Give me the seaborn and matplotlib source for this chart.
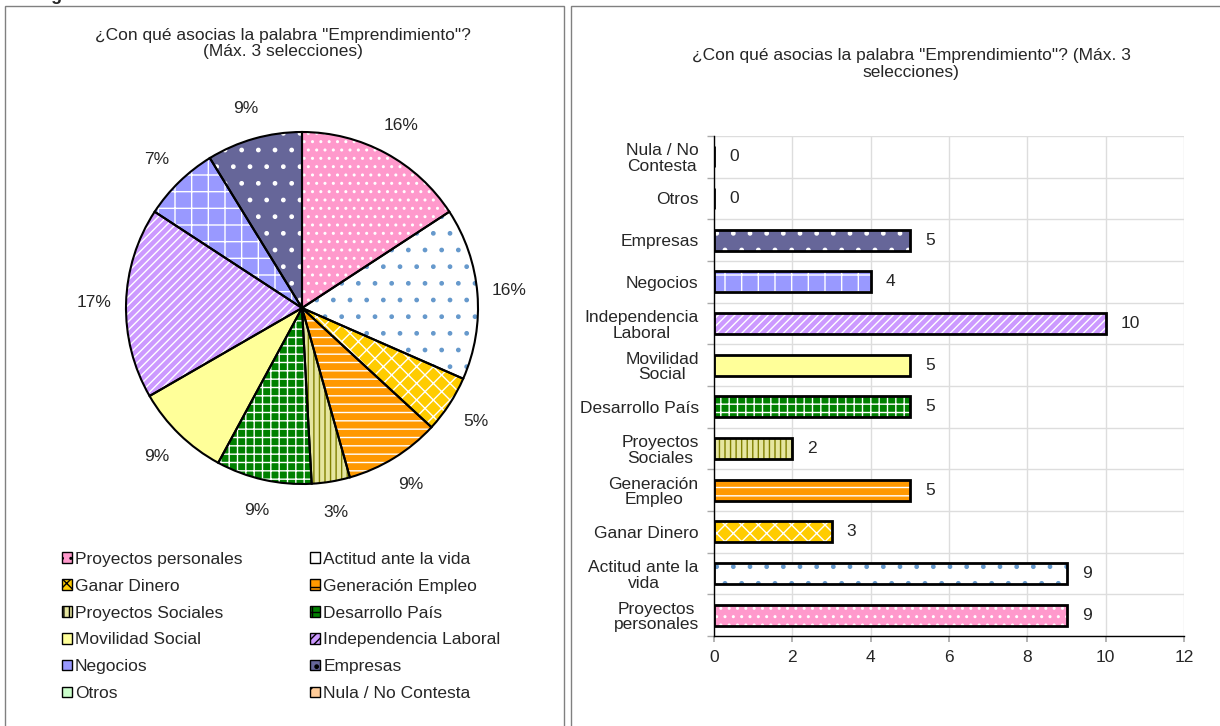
import matplotlib
matplotlib.use("Agg")
import matplotlib.pyplot as plt
from matplotlib.patches import Patch, Rectangle
import seaborn as sns

# %%
categories = ["Proyectos personales", "Actitud ante la vida", "Ganar Dinero",
              "Generación Empleo", "Proyectos Sociales", "Desarrollo País",
              "Movilidad Social", "Independencia Laboral", "Negocios", "Empresas",
              "Otros", "Nula / No Contesta"]
bar_labels = ["Proyectos\npersonales", "Actitud ante la\nvida", "Ganar Dinero",
              "Generación\nEmpleo", "Proyectos\nSociales", "Desarrollo País",
              "Movilidad\nSocial", "Independencia\nLaboral", "Negocios", "Empresas",
              "Otros", "Nula / No\nContesta"]
counts = [9, 9, 3, 5, 2, 5, 5, 10, 4, 5, 0, 0]
pie_pct = ["16%", "16%", "5%", "9%", "3%", "9%", "9%", "17%", "7%", "9%", "", ""]

face = ["#FF99CC", "#FFFFFF", "#FFCC00", "#FF9900", "#E6E6A0", "#008000",
        "#FFFF99", "#CC99FF", "#9999FF", "#666699", "#CCFFCC", "#FFCC99"]
hatch_col = ["#FFFFFF", "#6699CC", "#FFFFFF", "#FFFFFF", "#808000", "#FFFFFF",
             "#FFFF99", "#FFFFFF", "#FFFFFF", "#FFFFFF", "#339933", "#FF6600"]
hatches = ["..", ".", "xx", "--", "|||", "++", "", "////", "+", ".", "|", "/"]

title_pie = '¿Con qué asocias la palabra "Emprendimiento"?\n(Máx. 3 selecciones)'
title_bar = '¿Con qué asocias la palabra "Emprendimiento"? (Máx. 3\nselecciones)'

# %%
sns.set_theme(style="white")
plt.rcParams["font.family"] = ["Liberation Sans", "DejaVu Sans"]
plt.rcParams["hatch.linewidth"] = 1.0
FS = 12.5

W, H = 1220, 726
fig = plt.figure(figsize=(W / 100, H / 100), dpi=100)
fig.patch.set_facecolor("white")

# panel frames
fig.patches.append(Rectangle((4.5 / W, -0.01), 559.5 / W, 1 - 6 / H + 0.01, transform=fig.transFigure,
                             fill=False, edgecolor="#808080", lw=1))
fig.patches.append(Rectangle((571 / W, -0.01), 0.6, 1 - 6 / H + 0.01, transform=fig.transFigure,
                             fill=False, edgecolor="#808080", lw=1))
fig.text(22 / W, 1 - 0.5 / H, "Pregunta 5", fontsize=13, fontweight="bold", va="baseline")

# %% pie
cx, cy, r = 302, 308, 176
half = 1.25 * r
ax_pie = fig.add_axes([(cx - half) / W, (H - cy - half) / H, 2 * half / W, 2 * half / H])
idx = [i for i, v in enumerate(counts) if v > 0]
wedges, texts = ax_pie.pie([counts[i] for i in idx], colors=[face[i] for i in idx],
                           labels=[pie_pct[i] for i in idx], labeldistance=1.18,
                           startangle=90, counterclock=False,
                           textprops=dict(fontsize=FS, ha="center", va="center"))
for w, i in zip(wedges, idx):
    w.set_hatch(hatches[i])
    w.set_edgecolor(hatch_col[i])
    w.set_linewidth(0)
ax_pie.pie([counts[i] for i in idx], startangle=90, counterclock=False,
           wedgeprops=dict(fill=False, edgecolor="black", linewidth=1.5))
ax_pie.set_xlim(-1.25, 1.25)
ax_pie.set_ylim(-1.25, 1.25)
fig.text(283 / W, 1 - 43.5 / H, title_pie, ha="center", va="center", fontsize=FS,
         linespacing=1.1)

handles = [Patch(facecolor=face[i], edgecolor="black", hatch=hatches[i], lw=1)
           for i in range(len(categories))]
order = list(range(0, 12, 2)) + list(range(1, 12, 2))
fig.legend([handles[i] for i in order], [categories[i] for i in order],
           loc="upper left", bbox_to_anchor=(62 / W, 1 - 552 / H), ncol=2,
           frameon=False, fontsize=FS, handlelength=0.58, handleheight=0.58,
           handletextpad=0.17, columnspacing=3.9, labelspacing=0.68,
           borderpad=0, borderaxespad=0)

# %% bars
ax = fig.add_axes([714 / W, (H - 636) / H, 470 / W, 500 / H])
order_bar = list(range(len(categories)))[::-1]
ycats = [bar_labels[i] for i in order_bar]
xvals = [counts[i] for i in order_bar]
pal = {bar_labels[i]: face[i] for i in range(len(categories))}
sns.barplot(x=xvals, y=ycats, hue=ycats, palette=pal, orient="h", width=0.5,
            legend=False, ax=ax, saturation=1)
for p in ax.patches:
    k = int(round(p.get_y() + p.get_height() / 2))
    i = order_bar[k]
    p.set_hatch(hatches[i])
    p.set_edgecolor(hatch_col[i])
    p.set_linewidth(0)
ax.barh(range(len(xvals)), xvals, height=0.5, fill=False, edgecolor="black", linewidth=2)
for k, v in enumerate(xvals):
    ax.annotate(str(v), (v, k), xytext=(11, 0), textcoords="offset points",
                ha="left", va="center", fontsize=FS)

ax.set_xlim(0, 12)
ax.set_ylim(len(xvals) - 0.5, -0.5)
ax.set_xticks(range(0, 13, 2))
ax.set_yticks([k - 0.5 for k in range(len(xvals) + 1)], minor=True)
ax.grid(False)
ax.xaxis.grid(True, color="#DDDDDD", lw=1)
ax.yaxis.grid(True, which="minor", color="#DDDDDD", lw=1)
ax.tick_params(axis="y", which="major", length=0, pad=11, labelsize=FS)
ax.tick_params(axis="y", which="minor", length=5, color="#AAAAAA", left=True)
ax.tick_params(axis="x", length=4, color="#AAAAAA", bottom=True, pad=6, labelsize=FS)
for lab in ax.get_yticklabels():
    lab.set_multialignment("center")
    lab.set_linespacing(1.05)
ax.set_xlabel("")
ax.set_ylabel("")
for s in ["top", "right"]:
    ax.spines[s].set_visible(False)
for s in ["left", "bottom"]:
    ax.spines[s].set_color("black")
    ax.spines[s].set_linewidth(1)
ax.set_axisbelow(True)
fig.text(911 / W, 1 - 64 / H, title_bar, ha="center", va="center", fontsize=FS,
         linespacing=1.1)

fig.savefig("out.png", dpi=100)
